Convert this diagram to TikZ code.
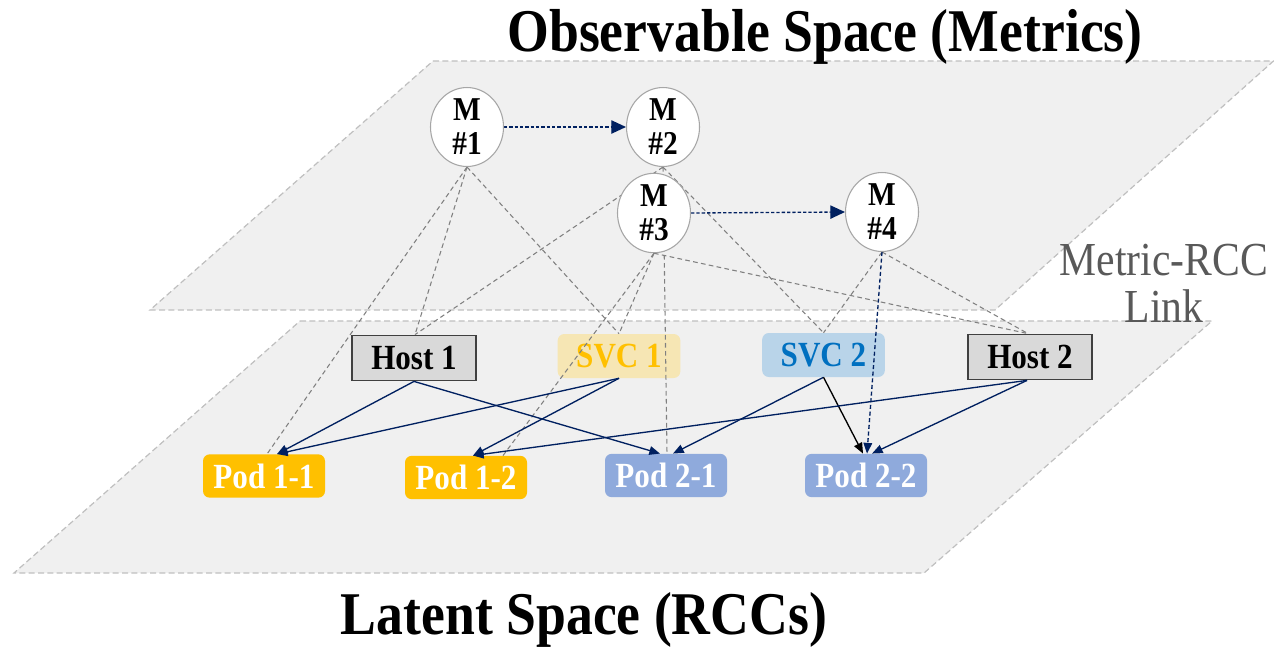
\documentclass[tikz,border=0pt]{standalone}
\usepackage{fontspec}
\usepackage{graphicx}
\setmainfont{Liberation Serif}
\usetikzlibrary{arrows.meta,calc,shapes.geometric}
\definecolor{planefill}{HTML}{F0F0F0}
\definecolor{planeborder}{HTML}{BFBFBF}
\definecolor{navyc}{HTML}{002060}
\definecolor{linkgray}{HTML}{808080}
\definecolor{hostfill}{HTML}{D9D9D9}
\definecolor{hostborder}{HTML}{404040}
\definecolor{svcAfill}{HTML}{F6E6B4}
\definecolor{svcAtext}{HTML}{FFC000}
\definecolor{svcBfill}{HTML}{B9D4E9}
\definecolor{svcBtext}{HTML}{0070C0}
\definecolor{podA}{HTML}{FFC000}
\definecolor{podB}{HTML}{8FAADC}
\definecolor{circborder}{HTML}{A6A6A6}
\definecolor{sidetext}{HTML}{595959}
\newcommand{\sx}[1]{\scalebox{0.88}[1]{#1}}
\newcommand{\tx}[1]{\scalebox{0.885}[1]{#1}}
\pgfdeclarelayer{bg}
\pgfdeclarelayer{fg}
\pgfsetlayers{bg,main,fg}
\tikzset{
  plane/.style={fill=planefill, draw=planeborder, line width=0.9pt, dash pattern=on 4.5pt off 2.5pt},
  metric/.style={ellipse, draw=circborder, fill=white, line width=0.8pt, minimum width=54.75pt, minimum height=51.75pt, inner sep=0pt, align=center, font=\fontsize{25}{25.5}\selectfont\bfseries},
  hostbox/.style={rectangle, draw=hostborder, fill=hostfill, line width=1.1pt, minimum width=93pt, minimum height=34pt, inner sep=0pt, font=\fontsize{26.5}{28}\selectfont\bfseries},
  svcbox/.style={rectangle, rounded corners=5pt, minimum width=92pt, minimum height=33pt, inner sep=0pt, font=\fontsize{26.5}{28}\selectfont\bfseries},
  podbox/.style={rectangle, rounded corners=5pt, minimum width=91.5pt, minimum height=32.5pt, inner sep=0pt, text=white, font=\fontsize{26.5}{28}\selectfont\bfseries},
  rcclink/.style={draw=linkgray, line width=0.8pt, dash pattern=on 3.5pt off 2.5pt},
  dep/.style={draw=navyc, line width=1pt, -{Triangle[length=8pt,width=6.5pt]}},
  mlink/.style={draw=navyc, line width=1pt, dash pattern=on 2.5pt off 1.5pt, -{Triangle[length=11pt,width=10pt]}},
  mlinkv/.style={draw=navyc, line width=1pt, dash pattern=on 3pt off 2pt, -{Triangle[length=8pt,width=6.5pt]}},
  title/.style={font=\fontsize{45.5}{48}\selectfont\bfseries, anchor=base}
}
\begin{document}
\begin{tikzpicture}[x=0.75pt,y=-0.75pt]
\useasboundingbox (0,0) rectangle (1274,647);
% planes
\begin{pgfonlayer}{bg}
\path[plane] (300,321) -- (1212,321) -- (924,573) -- (14,573) -- cycle;
\path[plane] (433,61) -- (1273.5,61) -- (995,310) -- (150,310) -- cycle;
\end{pgfonlayer}
% titles
\node[title] (ttop) at (825,51) {\tx{Observable Space (Metrics)}};
\node[title] (tbot) at (584,634) {\tx{Latent Space (RCCs)}};
\node[text=sidetext, align=center, font=\fontsize{35.5}{35}\selectfont, anchor=base] (side) at (1164,322) {\sx{Metric-RCC}\\\sx{Link}};
% metric nodes (front)
\begin{pgfonlayer}{fg}
\node[metric] (m1) at (467,127) {\sx{M}\\\sx{\#1}};
\node[metric] (m2) at (663,127) {\sx{M}\\\sx{\#2}};
\node[metric] (m3) at (654,213) {\sx{M}\\\sx{\#3}};
\node[metric] (m4) at (882,212) {\sx{M}\\\sx{\#4}};
\end{pgfonlayer}
% latent nodes
\node[hostbox] (h1) at (414,358) {\sx{Host 1}};
\node[svcbox, fill=svcAfill, text=svcAtext] (s1) at (619,356) {\sx{SVC 1}};
\node[svcbox, fill=svcBfill, text=svcBtext] (s2) at (823.5,355) {\sx{SVC 2}};
\node[hostbox] (h2) at (1030,357) {\sx{Host 2}};
\node[podbox, fill=podA] (p11) at (264,476) {\sx{Pod 1-1}};
\node[podbox, fill=podA] (p12) at (466,477.5) {\sx{Pod 1-2}};
\node[podbox, fill=podB] (p21) at (666,475.5) {\sx{Pod 2-1}};
\node[podbox, fill=podB] (p22) at (866,475.5) {\sx{Pod 2-2}};
% metric-RCC links
\draw[rcclink] (m1.south) -- ($(p11.north)+(3,0)$);
\draw[rcclink] (m1.south) -- ($(h1.north)+(1,0)$);
\draw[rcclink] (m1.south) -- (s1.north);
\draw[rcclink] (m2.south) -- ($(h1.north)+(1,0)$);
\draw[rcclink] (m2.south) -- ($(p21.north)+(1,0)$);
\draw[rcclink] (m2.south) -- (s2.north);
\draw[rcclink] (m3.south) -- (s1.north);
\draw[rcclink] (m3.south) -- ($(p12.north)+(37,0)$);
\draw[rcclink] (m3.south) -- ($(h2.north)+(-2,0)$);
\draw[rcclink] (m4.south) -- (s2.north);
\draw[rcclink] (m4.south) -- ($(h2.north)+(-2,0)$);
% metric causal links
\draw[mlink] (m1.east) -- (m2.west);
\draw[mlink] (m3.east) -- (m4.west);
\draw[mlinkv] (m4.south) -- ($(p22.north)+(1,0)$);
% RCC dependencies
\draw[dep] (h1.south) -- ($(p11.north)+(13,0)$);
\draw[dep] (h1.south) -- ($(p21.north)+(-6,0)$);
\draw[dep] (s1.south) -- ($(p11.north)+(13,0)$);
\draw[dep] (s1.south) -- ($(p12.north)+(7,0)$);
\draw[dep] (s2.south) -- ($(p21.north)+(7,0)$);
\draw[dep, draw=black] (s2.south) -- ($(p22.north)+(-3,0)$);
\draw[dep] ($(h2.south)+(-3,0)$) -- ($(p12.north)+(7,0)$);
\draw[dep] ($(h2.south)+(-3,0)$) -- ($(p22.north)+(6,0)$);
\end{tikzpicture}
\end{document}
